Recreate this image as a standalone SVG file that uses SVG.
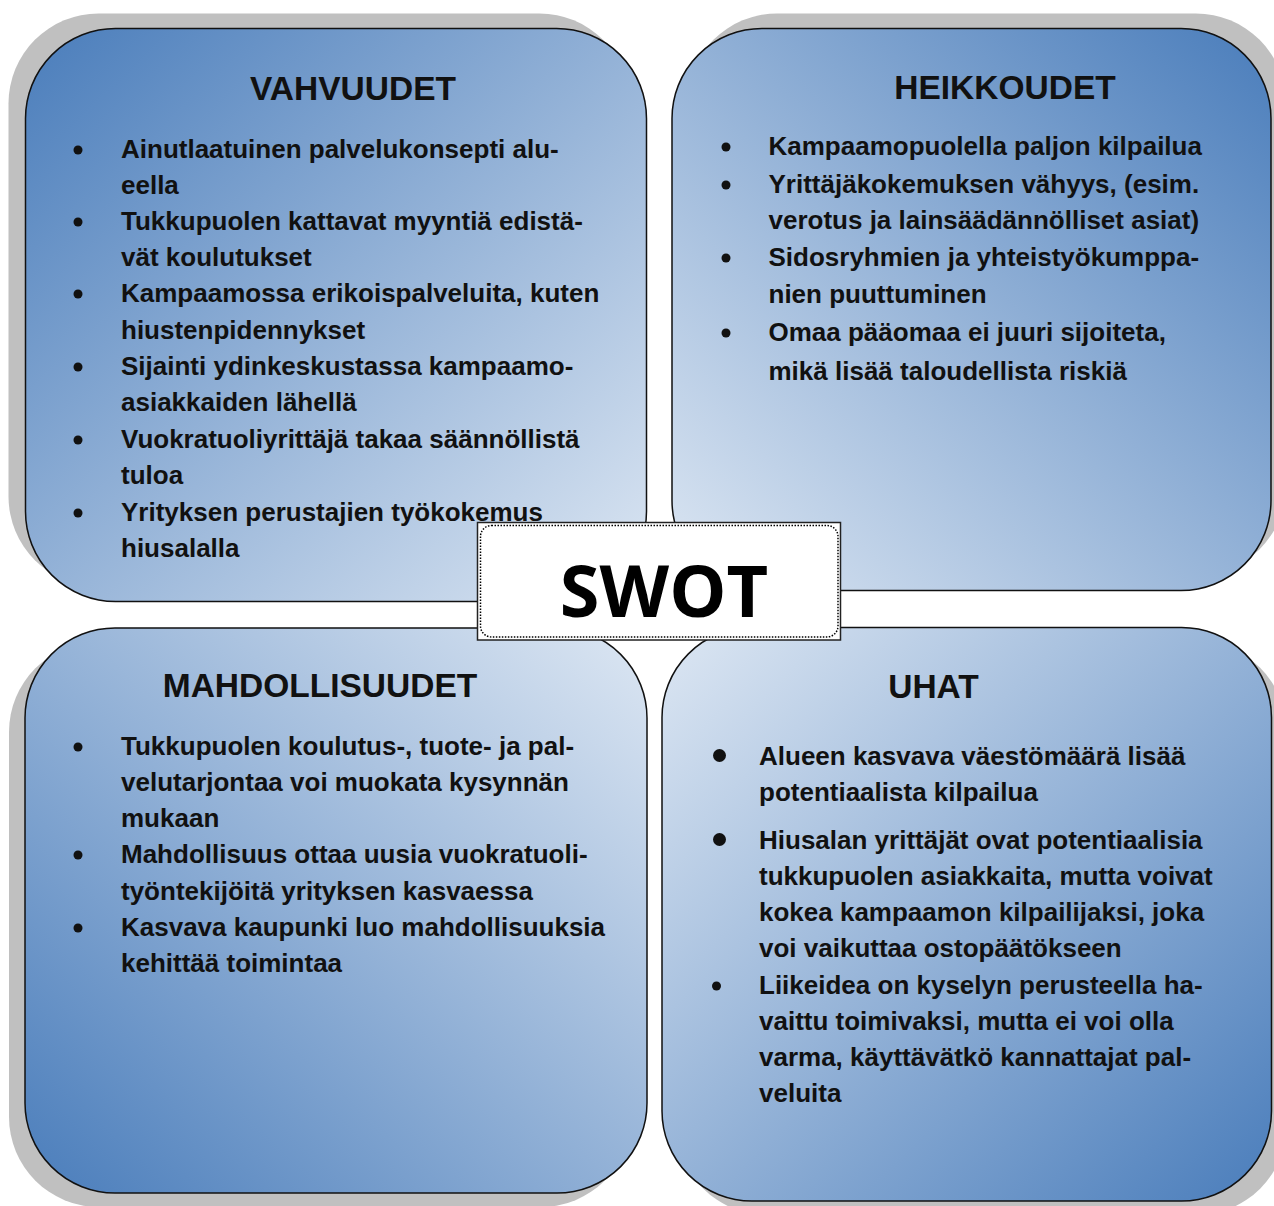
<svg xmlns="http://www.w3.org/2000/svg" width="1274" height="1206" viewBox="0 0 1274 1206">
<defs>
<linearGradient id="gS" x1="0" y1="0" x2="1" y2="1"><stop offset="0" stop-color="#4a7dbb"/><stop offset="1" stop-color="#dde7f3"/></linearGradient>
<linearGradient id="gW" x1="1" y1="0" x2="0" y2="1"><stop offset="0" stop-color="#4a7dbb"/><stop offset="1" stop-color="#dde7f3"/></linearGradient>
<linearGradient id="gO" x1="0" y1="1" x2="1" y2="0"><stop offset="0" stop-color="#4a7dbb"/><stop offset="1" stop-color="#dde7f3"/></linearGradient>
<linearGradient id="gT" x1="1" y1="1" x2="0" y2="0"><stop offset="0" stop-color="#4a7dbb"/><stop offset="1" stop-color="#dde7f3"/></linearGradient>
</defs>
<style>
.shadow{fill:#c0c0c0;stroke:none}
.box{stroke:#111;stroke-width:1.5}
.h{font-family:"Liberation Sans",Arial,sans-serif;font-weight:bold;font-size:33.5px;fill:#111;text-anchor:middle}
.t{font-family:"Liberation Sans",Arial,sans-serif;font-weight:bold;font-size:26px;fill:#111}
.b{fill:#111}
.swot{font-family:"Open Sans","Liberation Sans",sans-serif;font-weight:bold;font-size:72px;fill:#000;text-anchor:middle}
</style>
<rect width="1274" height="1206" fill="#fff"/>

<g id="node-vahvuudet">
<rect class="shadow" x="8.5" y="13.5" width="621" height="573" rx="90"/>
<rect class="box" x="25.5" y="28.5" width="621" height="573" rx="90" fill="url(#gS)"/>
<text class="h" x="353" y="100">VAHVUUDET</text>
<circle class="b" cx="78" cy="150" r="4.5"/>
<circle class="b" cx="78" cy="222" r="4.5"/>
<circle class="b" cx="78" cy="294" r="4.5"/>
<circle class="b" cx="78" cy="367" r="4.5"/>
<circle class="b" cx="78" cy="440" r="4.5"/>
<circle class="b" cx="78" cy="513" r="4.5"/>
<text class="t" x="121" y="158">Ainutlaatuinen palvelukonsepti alu-</text>
<text class="t" x="121" y="194">eella</text>
<text class="t" x="121" y="230">Tukkupuolen kattavat myyntiä edistä-</text>
<text class="t" x="121" y="266">vät koulutukset</text>
<text class="t" x="121" y="302">Kampaamossa erikoispalveluita, kuten</text>
<text class="t" x="121" y="339">hiustenpidennykset</text>
<text class="t" x="121" y="375">Sijainti ydinkeskustassa kampaamo-</text>
<text class="t" x="121" y="411">asiakkaiden lähellä</text>
<text class="t" x="121" y="448">Vuokratuoliyrittäjä takaa säännöllistä</text>
<text class="t" x="121" y="484">tuloa</text>
<text class="t" x="121" y="521">Yrityksen perustajien työkokemus</text>
<text class="t" x="121" y="557">hiusalalla</text>
</g>

<g id="node-heikkoudet">
<rect class="shadow" x="687" y="13.5" width="599" height="562" rx="90"/>
<rect class="box" x="672" y="28.5" width="599" height="562" rx="90" fill="url(#gW)"/>
<text class="h" x="1005" y="99">HEIKKOUDET</text>
<circle class="b" cx="726" cy="147" r="4.5"/>
<circle class="b" cx="726" cy="185" r="4.5"/>
<circle class="b" cx="726" cy="258" r="4.5"/>
<circle class="b" cx="726" cy="333" r="4.5"/>
<text class="t" x="768.5" y="155">Kampaamopuolella paljon kilpailua</text>
<text class="t" x="768.5" y="192.5">Yrittäjäkokemuksen vähyys, (esim.</text>
<text class="t" x="768.5" y="229">verotus ja lainsäädännölliset asiat)</text>
<text class="t" x="768.5" y="266">Sidosryhmien ja yhteistyökumppa-</text>
<text class="t" x="768.5" y="302.5">nien puuttuminen</text>
<text class="t" x="768.5" y="341">Omaa pääomaa ei juuri sijoiteta,</text>
<text class="t" x="768.5" y="379.5">mikä lisää taloudellista riskiä</text>
</g>

<g id="node-mahdollisuudet">
<rect class="shadow" x="9" y="642" width="622" height="565" rx="90"/>
<rect class="box" x="25" y="628" width="622" height="565" rx="90" fill="url(#gO)"/>
<text class="h" x="320" y="697">MAHDOLLISUUDET</text>
<circle class="b" cx="78" cy="747" r="4.5"/>
<circle class="b" cx="78" cy="855" r="4.5"/>
<circle class="b" cx="78" cy="928" r="4.5"/>
<text class="t" x="121" y="755">Tukkupuolen koulutus-, tuote- ja pal-</text>
<text class="t" x="121" y="791">velutarjontaa voi muokata kysynnän</text>
<text class="t" x="121" y="827">mukaan</text>
<text class="t" x="121" y="863">Mahdollisuus ottaa uusia vuokratuoli-</text>
<text class="t" x="121" y="900">työntekijöitä yrityksen kasvaessa</text>
<text class="t" x="121" y="936">Kasvava kaupunki luo mahdollisuuksia</text>
<text class="t" x="121" y="972">kehittää toimintaa</text>
</g>

<g id="node-uhat">
<rect class="shadow" x="677" y="641.5" width="609.5" height="573.5" rx="90"/>
<rect class="box" x="662" y="627.5" width="609.5" height="573.5" rx="90" fill="url(#gT)"/>
<text class="h" x="933.5" y="698">UHAT</text>
<circle class="b" cx="719.5" cy="755.5" r="6.5"/>
<circle class="b" cx="719.5" cy="839.5" r="6.5"/>
<circle class="b" cx="716.5" cy="986" r="4.5"/>
<text class="t" x="759" y="765">Alueen kasvava väestömäärä lisää</text>
<text class="t" x="759" y="801">potentiaalista kilpailua</text>
<text class="t" x="759" y="849">Hiusalan yrittäjät ovat potentiaalisia</text>
<text class="t" x="759" y="885">tukkupuolen asiakkaita, mutta voivat</text>
<text class="t" x="759" y="921">kokea kampaamon kilpailijaksi, joka</text>
<text class="t" x="759" y="957">voi vaikuttaa ostopäätökseen</text>
<text class="t" x="759" y="994">Liikeidea on kyselyn perusteella ha-</text>
<text class="t" x="759" y="1030">vaittu toimivaksi, mutta ei voi olla</text>
<text class="t" x="759" y="1066">varma, käyttävätkö kannattajat pal-</text>
<text class="t" x="759" y="1102">veluita</text>
</g>

<g id="node-swot">
<rect x="477.5" y="522.5" width="363" height="117.5" fill="#fff" stroke="#222" stroke-width="1.5"/>
<rect x="480.5" y="525.5" width="357.5" height="111.5" rx="11" fill="#fff" stroke="#000" stroke-width="1.5" stroke-dasharray="1.5 1.5"/>
<text class="swot" x="664" y="617">SWOT</text>
</g>

<g id="connectors"/>
</svg>
